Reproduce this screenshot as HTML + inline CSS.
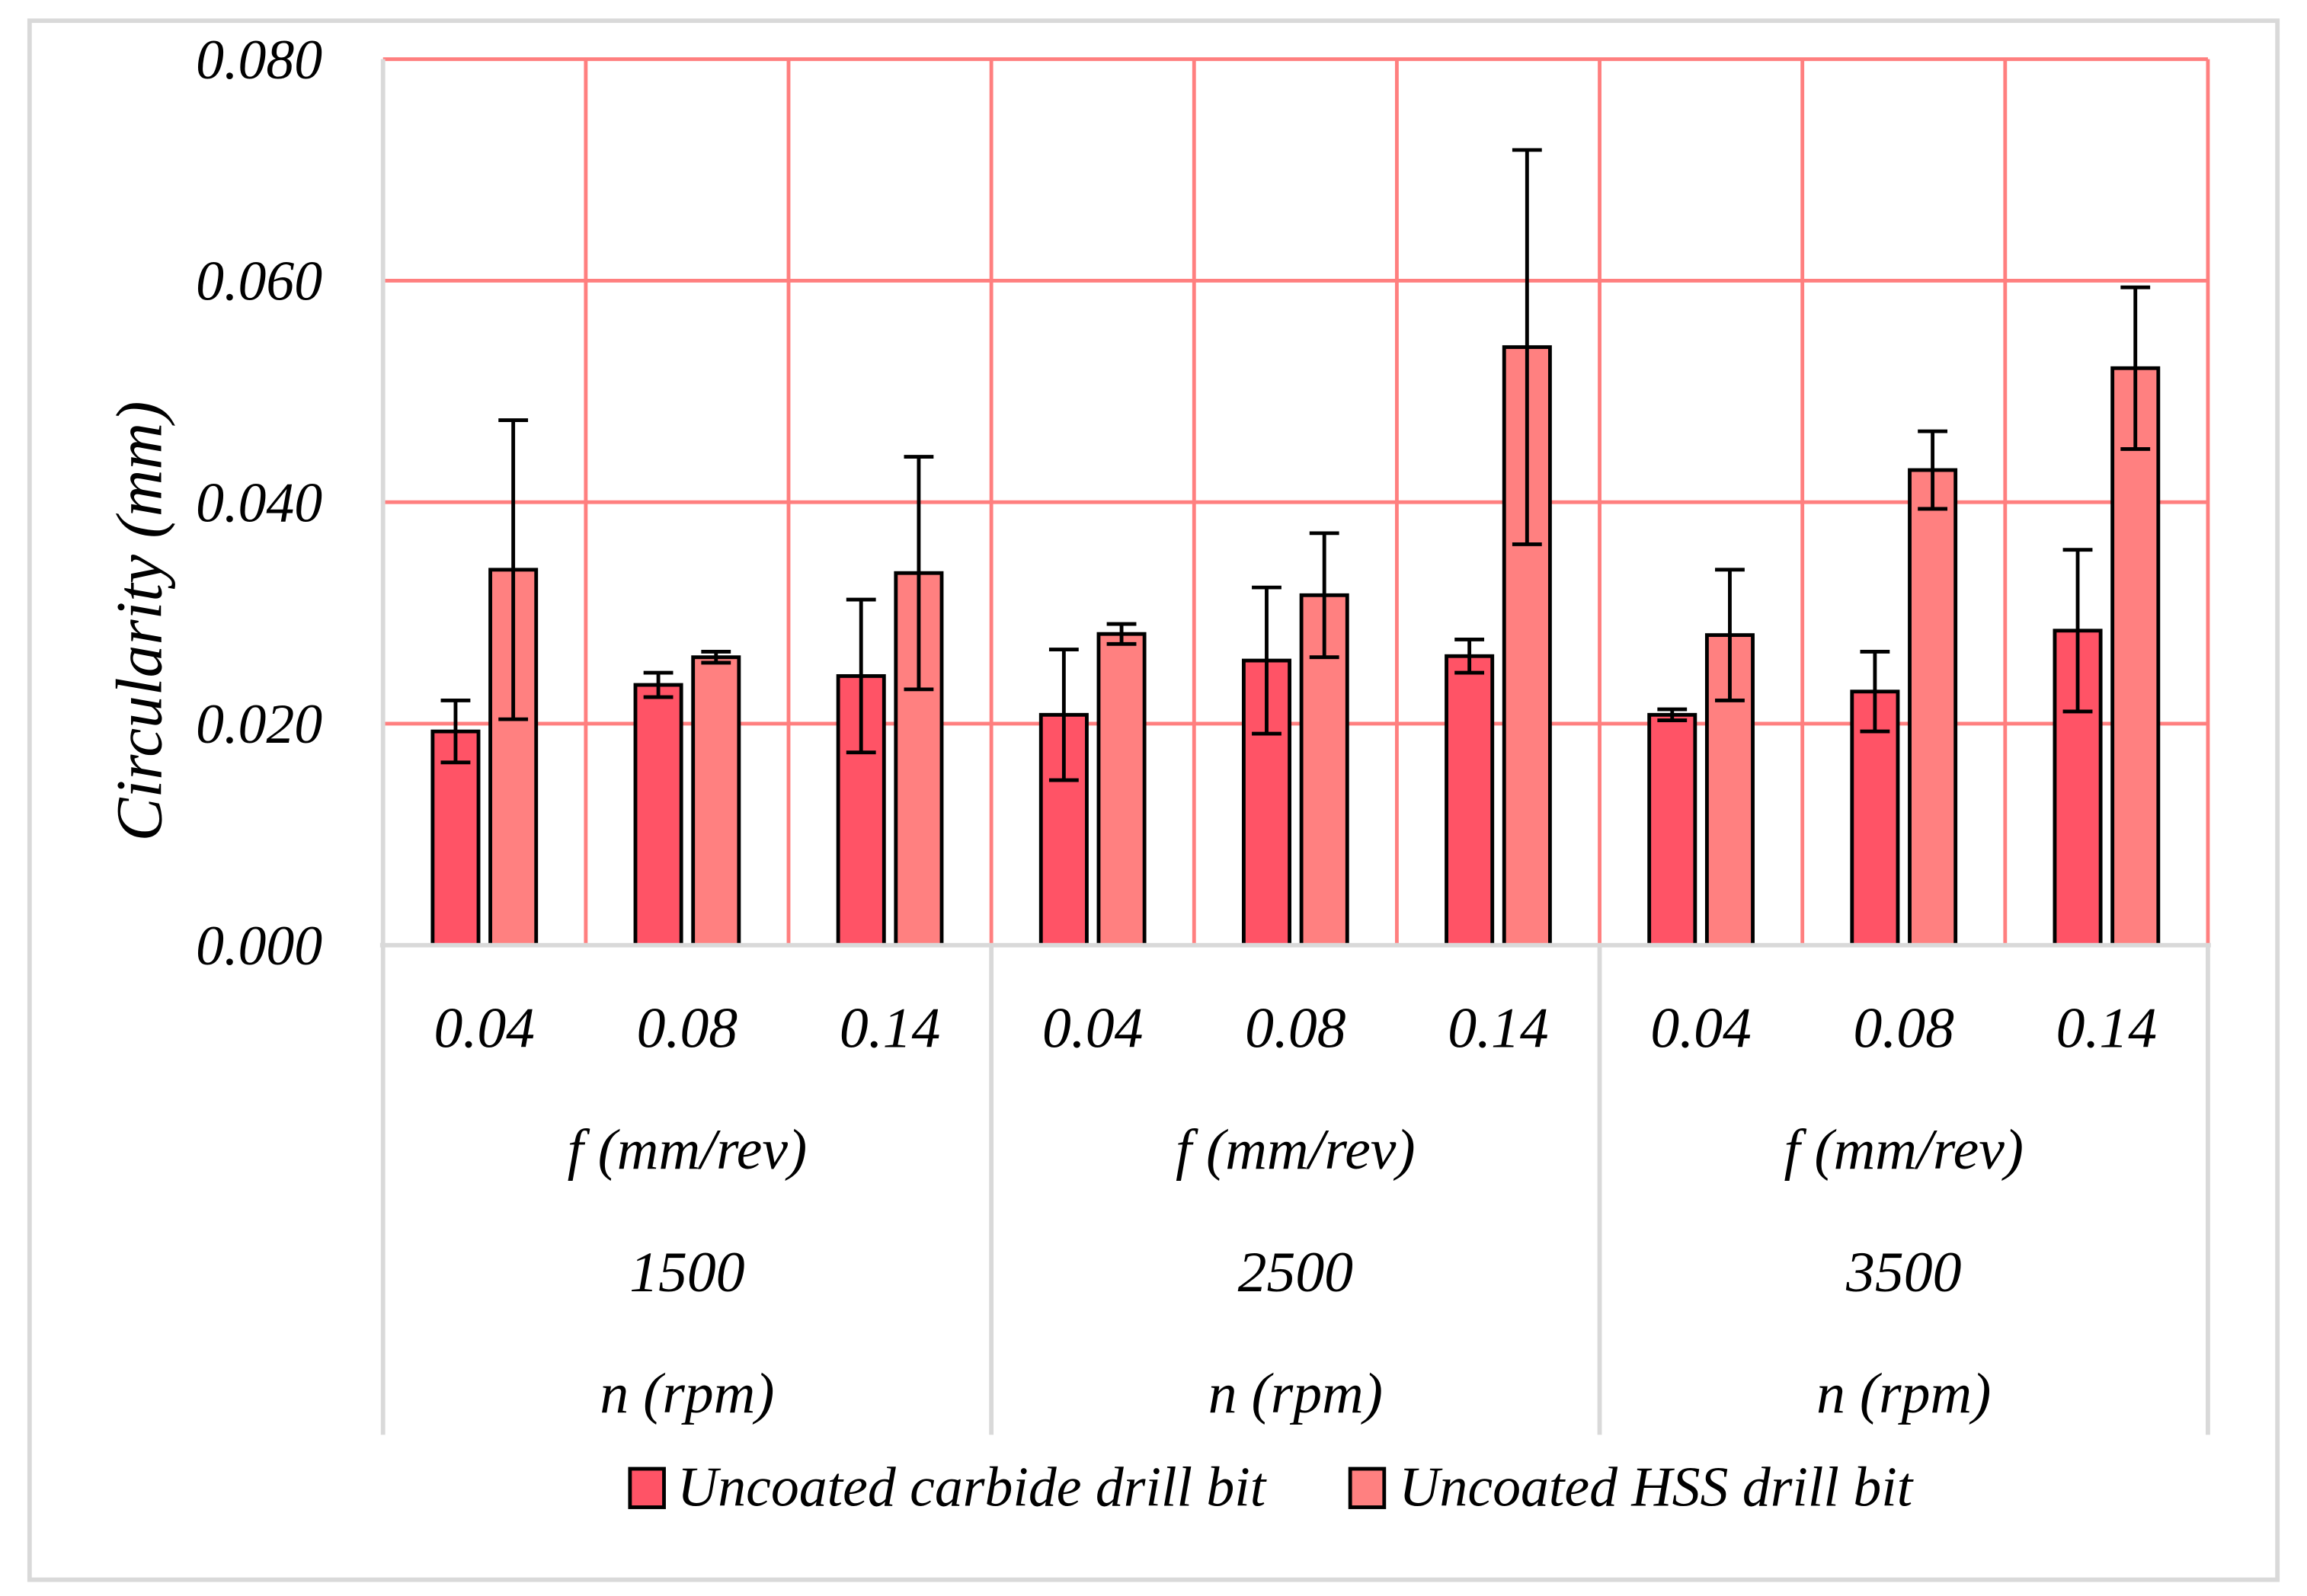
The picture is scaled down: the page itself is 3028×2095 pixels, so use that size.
<!DOCTYPE html>
<html><head><meta charset="utf-8"><style>
html,body{margin:0;padding:0;background:#fff;}
svg{display:block;}
text{font-family:"Liberation Serif",serif;font-style:italic;fill:#000;}
</style></head><body>
<svg id="chart" width="3028" height="2095" viewBox="0 0 1560 1079" preserveAspectRatio="none" xmlns="http://www.w3.org/2000/svg">
<rect x="20" y="14" width="1520" height="1054" fill="#fff" stroke="#d9d9d9" stroke-width="3"/>
<g id="grid"></g>
<g id="bars"></g>
<g id="axes"></g>
<text transform="translate(109,420) rotate(-90)" text-anchor="middle" font-size="44">Circularity (mm)</text>
<g>
<rect x="426" y="993" width="23" height="26" fill="#FF5366" stroke="#000" stroke-width="2.5"/>
<text x="458" y="1018" font-size="38">Uncoated carbide drill bit</text>
<rect x="913" y="993" width="23" height="26" fill="#FF8080" stroke="#000" stroke-width="2.5"/>
<text x="946" y="1018" font-size="38">Uncoated HSS drill bit</text>
</g>
</svg>
<script>
const feeds = ["0.04","0.08","0.14","0.04","0.08","0.14","0.04","0.08","0.14"];
const speeds = ["1500","2500","3500"];
const carbide = [0.0193,0.0235,0.0243,0.0208,0.0257,0.0261,0.0208,0.0229,0.0284];
const carbideErr = [0.0028,0.0011,0.0069,0.0059,0.0066,0.0015,0.0005,0.0036,0.0073];
const hss = [0.0339,0.0260,0.0336,0.0281,0.0316,0.0540,0.0280,0.0429,0.0521];
const hssErr = [0.0135,0.0005,0.0105,0.0009,0.0056,0.0178,0.0059,0.0035,0.0073];
const yTicks = [0,0.02,0.04,0.06,0.08];

const NS="http://www.w3.org/2000/svg";
const L=259,R=1493,T=40,B=639,yMax=0.08;
const cw=(R-L)/feeds.length;
const y=v=>B-(v/yMax)*(B-T);
const x=i=>L+cw*i;
function mk(tag,attrs,parent,txt){const e=document.createElementNS(NS,tag);for(const k in attrs)e.setAttribute(k,attrs[k]);if(txt!==undefined)e.textContent=txt;parent.appendChild(e);return e;}
const grid=document.getElementById('grid'),bars=document.getElementById('bars'),axes=document.getElementById('axes');
yTicks.forEach((t,i)=>{
  if(t>0){const g=mk('line',{x1:L,x2:R,y1:y(t),y2:y(t),stroke:'#FF7F7F','stroke-width':2.5},grid);
  
  }
  const lb=mk('text',{x:218,y:y(t)+13,'text-anchor':'end','font-size':38},axes,t.toFixed(3));
  
  
});
for(let i=1;i<=feeds.length;i++){
  const v=mk('line',{x1:x(i),x2:x(i),y1:T,y2:B,stroke:'#FF7F7F','stroke-width':2.5},grid);
  
  
}
function bar(cx,val,err,fill,name){
  const w=31;
  const r=mk('rect',{x:cx-w/2,y:y(val),width:w,height:B-y(val),fill:fill,stroke:'#000','stroke-width':2.5},bars);
  
  
  const g=mk('path',{d:`M${cx},${y(val+err)}V${y(val-err)}M${cx-10},${y(val+err)}H${cx+10}M${cx-10},${y(val-err)}H${cx+10}`,stroke:'#000','stroke-width':2.5,fill:'none'},bars);
  
  
}
feeds.forEach((f,i)=>{
  const c=x(i)+cw/2;
  bar(c-19.5,carbide[i],carbideErr[i],'#FF5366','bar-carbide');
  bar(c+19.5,hss[i],hssErr[i],'#FF8080','bar-hss');
  const t=mk('text',{x:c,y:708,'text-anchor':'middle','font-size':39},axes,f);
  
  
});
mk('line',{x1:L-2,x2:R+2,y1:B,y2:B,stroke:'#d9d9d9','stroke-width':3},axes);
mk('line',{x1:L,x2:L,y1:T,y2:B,stroke:'#d9d9d9','stroke-width':3},axes);
[0,3,6,9].forEach(i=>{mk('line',{x1:x(i),x2:x(i),y1:B,y2:970,stroke:'#d9d9d9','stroke-width':3},axes);});
speeds.forEach((s,j)=>{
  const c=x(j*3)+cw*1.5;
  const a=mk('text',{x:c,y:790,'text-anchor':'middle','font-size':39},axes,'f (mm/rev)');
  
  
  const b=mk('text',{x:c,y:873,'text-anchor':'middle','font-size':39},axes,s);
  
  
  const d=mk('text',{x:c,y:955,'text-anchor':'middle','font-size':39},axes,'n (rpm)');
  
  
});
</script>
</body></html>
